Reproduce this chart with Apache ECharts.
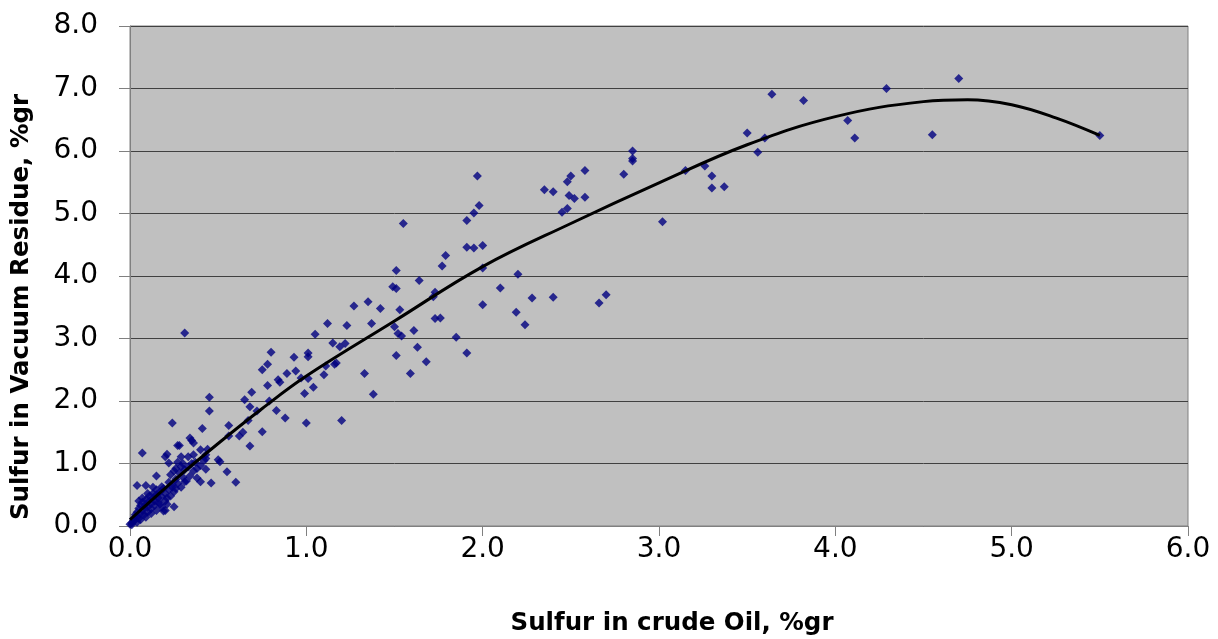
<!DOCTYPE html>
<html>
<head>
<meta charset="utf-8">
<script src="https://cdn.jsdelivr.net/npm/echarts@6/dist/echarts.min.js"></script>
<style>
  html, body { margin: 0; padding: 0; background: #ffffff; }
  #chart { width: 1218px; height: 639px; }
</style>
</head>
<body>
<div id="chart"></div>
<script>
// Sulfur content: crude oil (x) vs vacuum residue (y), % by weight
const xTicks = [0, 1, 2, 3, 4, 5, 6];
const yTicks = [0, 1, 2, 3, 4, 5, 6, 7, 8];

const samples = [
  [4.70,7.16],[4.29,7.00],[3.64,6.91],[3.82,6.81],[4.07,6.49],[4.11,6.21],[4.55,6.26],[5.50,6.25],
  [3.50,6.29],[3.60,6.21],[3.56,5.98],[3.15,5.69],[3.26,5.76],[3.30,5.60],[3.30,5.41],[3.37,5.43],
  [3.02,4.87],[2.85,6.00],[2.85,5.88],[2.85,5.84],[2.80,5.63],[2.58,5.69],[2.58,5.26],[2.35,5.38],
  [2.40,5.35],[2.48,5.51],[2.50,5.60],[2.49,5.29],[2.52,5.24],[2.45,5.02],[2.48,5.08],[2.28,3.65],
  [2.40,3.66],[2.66,3.57],[2.70,3.70],[2.20,4.03],[2.10,3.81],[2.19,3.42],[2.24,3.22],
  [1.97,5.60],[1.98,5.13],[1.95,5.01],[1.91,4.89],[1.55,4.84],[1.91,4.46],[1.95,4.45],[2.00,4.49],
  [2.00,4.13],[2.00,3.54],[1.79,4.33],[1.77,4.16],[1.51,4.09],[1.64,3.93],[1.49,3.83],[1.51,3.80],
  [1.73,3.74],[1.72,3.67],[1.53,3.46],[1.27,3.52],[1.35,3.59],[1.42,3.48],[1.12,3.24],[1.23,3.21],
  [1.37,3.24],[1.73,3.32],[1.76,3.33],[1.05,3.07],[1.50,3.19],[1.52,3.08],[1.54,3.04],[1.61,3.13],
  [1.85,3.02],[1.15,2.93],[1.19,2.87],[1.22,2.92],[1.01,2.77],[1.01,2.71],[1.11,2.56],[1.10,2.42],
  [1.16,2.59],[1.17,2.61],[0.97,2.37],[1.01,2.36],[1.04,2.22],[0.99,2.12],[1.00,1.65],[1.20,1.69],
  [1.33,2.44],[1.38,2.11],[1.51,2.73],[1.59,2.44],[1.63,2.86],[1.68,2.63],[1.91,2.77],
  [0.80,2.78],[0.93,2.70],[0.78,2.59],[0.75,2.50],[0.94,2.48],[0.89,2.44],[0.84,2.34],[0.85,2.30],
  [0.69,2.14],[0.78,2.25],[0.65,2.02],[0.68,1.91],[0.72,1.84],[0.79,2.00],[0.83,1.85],[0.88,1.73],
  [0.45,2.06],[0.45,1.84],[0.67,1.69],[0.75,1.51],[0.56,1.61],[0.56,1.44],[0.62,1.44],[0.64,1.50],
  [0.68,1.28],[0.41,1.56],[0.44,1.23],[0.43,1.08],[0.50,1.06],[0.51,1.03],[0.55,0.87],[0.40,1.22],
  [0.31,3.09],[0.07,1.17],[0.24,1.65],[0.60,0.70],[0.46,0.69],[0.38,0.77],[0.40,0.71],[0.34,1.41],
  [0.28,1.29],[0.27,1.29],[0.29,1.11],[0.35,1.37],[0.33,1.11],[0.43,1.14],[0.21,1.15],[0.20,1.11],
  [0.15,0.80],[0.04,0.65],[0.09,0.65],[0.25,0.31],[0.19,0.24],[0.36,1.33],[0.22,1.01],[0.27,1.02],
  [0.36,1.14],[0.43,0.91],[0.18,0.63],[0.24,0.67],[0.31,0.71],[0.20,0.25],
  [0.01,0.05],[0.02,0.08],[0.02,0.12],[0.03,0.10],[0.03,0.18],[0.04,0.15],[0.04,0.22],[0.05,0.12],
  [0.05,0.28],[0.06,0.20],[0.06,0.33],[0.07,0.25],[0.07,0.38],[0.08,0.18],[0.08,0.30],[0.09,0.35],
  [0.09,0.42],[0.10,0.22],[0.10,0.30],[0.11,0.40],[0.11,0.48],[0.12,0.28],[0.12,0.36],[0.13,0.45],
  [0.13,0.52],[0.14,0.33],[0.14,0.40],[0.15,0.50],[0.15,0.58],[0.16,0.38],[0.16,0.45],[0.17,0.55],
  [0.18,0.30],[0.18,0.47],[0.19,0.60],[0.20,0.40],[0.20,0.52],[0.21,0.35],[0.22,0.58],[0.22,0.70],
  [0.23,0.48],[0.24,0.62],[0.25,0.55],[0.26,0.75],[0.27,0.68],[0.28,0.85],[0.29,0.62],[0.30,0.78],
  [0.31,0.90],[0.32,0.72],[0.33,0.95],[0.34,0.80],[0.35,1.00],[0.36,0.88],[0.37,1.02],[0.38,0.92],
  [0.40,0.97],[0.42,1.05],[0.29,0.95],[0.26,0.92],[0.25,0.88],[0.23,0.82],[0.30,1.00],
  [0.00,0.03],[0.01,0.02],[0.04,0.06],[0.06,0.10],[0.09,0.14],[0.12,0.20],[0.15,0.25],
  [0.17,0.35],[0.10,0.52],[0.07,0.45],[0.05,0.40],[0.13,0.62],[0.21,0.45],[0.26,0.60]
];

// Polynomial trend curve, sampled along the fitted line
const trendX = [0.00, 0.25, 0.50, 0.75, 1.00, 1.50, 2.00, 2.50, 3.00, 3.50, 4.00, 4.50, 4.75, 5.00, 5.25, 5.50];
const trendY = [0.10, 0.73, 1.32, 1.88, 2.40, 3.28, 4.15, 4.84, 5.49, 6.10, 6.55, 6.79, 6.82, 6.74, 6.53, 6.25];

const chart = echarts.init(document.getElementById('chart'));
const labelFont = '"DejaVu Sans", sans-serif';
const titleFont = '"DejaVu Sans", sans-serif';

chart.setOption({
  animation: false,
  backgroundColor: '#ffffff',
  grid: {
    left: 130, top: 26, right: 30, bottom: 113,
    outerBoundsMode: 'none',
    containLabel: false,
    show: true,
    backgroundColor: '#C0C0C0',
    borderColor: '#808080',
    borderWidth: 1
  },
  xAxis: {
    type: 'value',
    min: xTicks[0], max: xTicks[xTicks.length - 1], interval: 1,
    name: 'Sulfur in crude Oil, %gr',
    nameLocation: 'middle',
    nameGap: 85,
    nameTextStyle: { fontFamily: titleFont, fontSize: 24.5, fontWeight: 'bold', color: '#000', padding: [0, 0, 0, 26] },
    axisLine: { show: true, lineStyle: { color: '#808080', width: 1 } },
    axisTick: { show: true, inside: false, length: 10, lineStyle: { color: '#808080' } },
    axisLabel: {
      fontFamily: labelFont, fontSize: 28, color: '#000', margin: 10,
      formatter: v => v.toFixed(1)
    },
    splitLine: { show: false }
  },
  yAxis: {
    type: 'value',
    min: yTicks[0], max: yTicks[yTicks.length - 1], interval: 1,
    name: 'Sulfur in Vacuum Residue, %gr',
    nameLocation: 'middle',
    nameGap: 96,
    nameRotate: 90,
    nameTextStyle: { fontFamily: titleFont, fontSize: 24.5, fontWeight: 'bold', color: '#000', padding: [0, 62, 0, 0] },
    axisLine: { show: true, lineStyle: { color: '#808080', width: 1 } },
    axisTick: { show: true, inside: false, length: 11, lineStyle: { color: '#808080' } },
    axisLabel: {
      fontFamily: labelFont, fontSize: 28, color: '#000', margin: 32,
      formatter: v => v.toFixed(1)
    },
    splitLine: { show: true, lineStyle: { color: '#404040', width: 1 } }
  },
  series: [
    {
      type: 'scatter',
      data: samples,
      symbol: 'diamond',
      symbolSize: 9,
      itemStyle: { color: '#000080' },
      z: 2
    },
    {
      type: 'line',
      data: trendX.map((x, i) => [x, trendY[i]]),
      smooth: 0.4,
      symbol: 'none',
      lineStyle: { color: '#000000', width: 3 },
      z: 3
    }
  ]
});
</script>
</body>
</html>
